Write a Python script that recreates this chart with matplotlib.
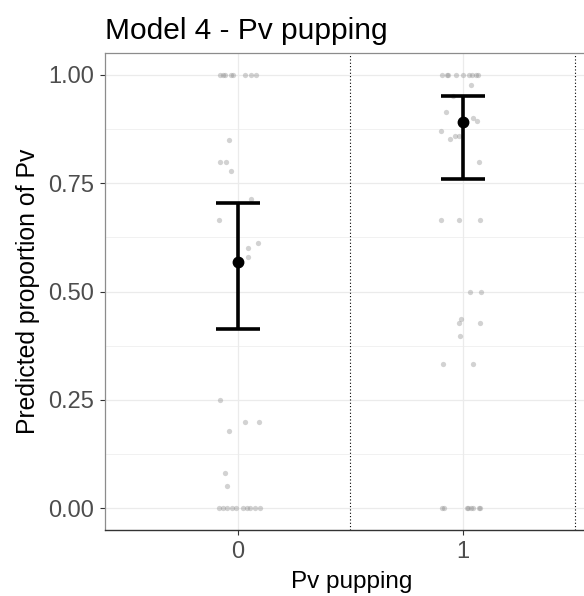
import matplotlib
matplotlib.use("Agg")
import matplotlib.pyplot as plt
import numpy as np

plt.rcParams["font.family"] = ["Liberation Sans", "DejaVu Sans"]

# 予測値の平均と信頼区間
groups    = ["0", "1"]
means     = [0.567, 0.890]
ci_low    = [0.413, 0.760]
ci_high   = [0.705, 0.951]

# ジッターされた生データ (x はグループ中心からのずれ)
g0_y = [1.0, 1.0, 1.0, 1.0, 1.0, 1.0, 1.0, 1.0,
        0.85, 0.798, 0.798, 0.777, 0.714, 0.665, 0.611, 0.60, 0.58,
        0.249, 0.199, 0.199, 0.179, 0.082, 0.052,
        0.0, 0.0, 0.0, 0.0, 0.0, 0.0, 0.0, 0.0, 0.0, 0.0]
g0_dx = [-0.08, -0.068, -0.058, -0.032, -0.023, 0.034, 0.058, 0.08,
         -0.04, -0.079, -0.053, -0.031, 0.058, -0.084, 0.09, 0.046, 0.046,
         -0.081, 0.034, 0.093, -0.04, -0.058, -0.05,
         -0.083, -0.068, -0.046, -0.028, -0.009, 0.024, 0.039, 0.056, 0.077, 0.1]

g1_y = [1.0, 1.0, 1.0, 1.0, 1.0, 1.0, 1.0, 1.0, 1.0,
        0.976, 0.951, 0.915, 0.90, 0.894, 0.869, 0.858, 0.858, 0.851, 0.798,
        0.665, 0.665, 0.665, 0.5, 0.5, 0.437, 0.427, 0.427, 0.398,
        0.333, 0.333,
        0.0, 0.0, 0.0, 0.0, 0.0, 0.0, 0.0, 0.0]
g1_dx = [-0.095, -0.072, -0.065, -0.031, 0.0, 0.028, 0.039, 0.058, 0.066,
         0.034, -0.043, -0.075, 0.043, 0.064, -0.096, -0.036, -0.016, -0.059, 0.071,
         -0.096, -0.018, 0.078, 0.03, 0.082, -0.01, -0.018, 0.078, -0.012,
         -0.087, 0.044,
         -0.092, -0.086, 0.016, 0.024, 0.034, 0.046, 0.07, 0.078]

W, H = 584, 596
fig = plt.figure(figsize=(W / 100, H / 100), dpi=100)
# パネルの右端は画像の外にはみ出している
ax = fig.add_axes([105 / W, 1 - 530 / H, (598 - 105) / W, (530 - 53) / H])

xpos = np.arange(len(groups))

# 格子
for v in [0.125, 0.375, 0.625, 0.875]:
    ax.axhline(v, color="#ebebeb", lw=0.5, zorder=0)
for v in [0, 0.25, 0.5, 0.75, 1.0]:
    ax.axhline(v, color="#ebebeb", lw=0.9, zorder=0)
for v in xpos:
    ax.axvline(v, color="#ebebeb", lw=0.9, zorder=0)

# 生データ
ax.plot(xpos[0] + np.array(g0_dx), g0_y, "o", ms=3.8, mec="none",
        color="#8a8a8a", alpha=0.38, zorder=2)
ax.plot(xpos[1] + np.array(g1_dx), g1_y, "o", ms=3.8, mec="none",
        color="#8a8a8a", alpha=0.38, zorder=2)

# 平均と誤差棒
means = np.array(means)
yerr = [means - np.array(ci_low), np.array(ci_high) - means]
ax.errorbar(xpos, means, yerr=yerr, fmt="o", color="black", ms=7.5,
            elinewidth=2.6, capsize=16, capthick=2.6, zorder=3)

# グループ境界の点線
for v in [0.5, 1.5]:
    ax.axvline(v, color="black", lw=0.8, ls=(0, (1, 2)), zorder=1)

ax.set_xlim(-0.59, 1.6)
ax.set_ylim(-0.05, 1.05)
ax.set_xticks(xpos)
ax.set_xticklabels(groups)
ax.set_yticks([0, 0.25, 0.5, 0.75, 1.0])
ax.set_yticklabels(["0.00", "0.25", "0.50", "0.75", "1.00"])
ax.tick_params(axis="both", labelsize=17, colors="#333333", labelcolor="#4d4d4d",
               length=3.6, width=0.8, pad=4)

for s in ["left", "top", "right"]:
    ax.spines[s].set_color("#8c8c8c")
    ax.spines[s].set_linewidth(0.9)
ax.spines["bottom"].set_color("#333333")
ax.spines["bottom"].set_linewidth(1.0)

ax.set_xlabel("Pv pupping", fontsize=17.5, labelpad=6)
ax.set_ylabel("Predicted proportion of Pv", fontsize=17.8, labelpad=6)
ax.set_title("Model 4 - Pv pupping", loc="left", fontsize=21.5, pad=10)

fig.savefig("out.png", dpi=100)
